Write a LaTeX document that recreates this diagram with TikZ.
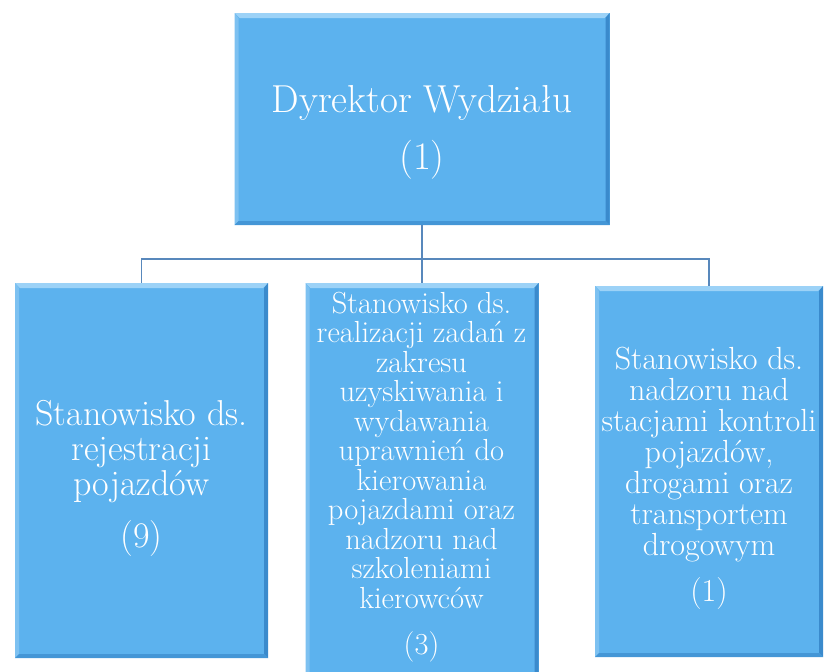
\documentclass[tikz,border=0pt]{standalone}
\usepackage{tikz}
\usetikzlibrary{positioning, calc}

\definecolor{boxblue}{RGB}{92,178,238}
\definecolor{boxlight}{RGB}{156,210,247}
\definecolor{boxdark}{RGB}{58,138,204}
\definecolor{linkblue}{RGB}{88,136,188}

\newcommand{\bevel}{%
	\fill[boxlight] (path picture bounding box.north west) -- (path picture bounding box.north east)
		-- ([xshift=-5pt,yshift=-5pt]path picture bounding box.north east) -- ([xshift=5pt,yshift=-5pt]path picture bounding box.north west) -- cycle;
	\fill[boxblue!80!white] (path picture bounding box.north west) -- (path picture bounding box.south west)
		-- ([xshift=4pt,yshift=4pt]path picture bounding box.south west) -- ([xshift=4pt,yshift=-5pt]path picture bounding box.north west) -- cycle;
	\fill[boxdark] (path picture bounding box.north east) -- (path picture bounding box.south east)
		-- ([xshift=-4pt,yshift=4pt]path picture bounding box.south east) -- ([xshift=-4pt,yshift=-5pt]path picture bounding box.north east) -- cycle;
	\fill[boxdark!70!boxblue] (path picture bounding box.south west) -- (path picture bounding box.south east)
		-- ([xshift=-4pt,yshift=4pt]path picture bounding box.south east) -- ([xshift=4pt,yshift=4pt]path picture bounding box.south west) -- cycle;
}

\begin{document}
\begin{tikzpicture}[x=1pt, y=-1pt,
					box/.style={rectangle, fill=boxblue, inner sep=0pt, path picture={\bevel}},
					boxtext/.style={text=white, align=center, inner sep=0pt},
					link/.style={draw=linkblue, line width=1.3pt}]

\useasboundingbox (0,0) rectangle (825,672);
\clip (0,0) rectangle (825,672);

% boxes
\node[box, minimum width=375pt, minimum height=212pt] (dyr) at (422,119) {};
\node[box, minimum width=253pt, minimum height=375pt] (rej) at (141.5,470.5) {};
\node[box, minimum width=233pt, minimum height=393pt] (upr) at (422,479.5) {};
\node[box, minimum width=228pt, minimum height=371pt] (kon) at (709,471.5) {};

% texts
\node[boxtext, font=\fontsize{39}{57}\selectfont] (dyrtxt) at (422,132)
	{Dyrektor Wydziału\\(1)};
\node[boxtext, font=\fontsize{36}{35}\selectfont] (rejtxt) at (141.5,478)
	{Stanowisko ds.\\rejestracji\\pojazdów\\[17pt](9)};
\node[boxtext, font=\fontsize{30.5}{29.5}\selectfont] (uprtxt) at (421.5,477)
	{Stanowisko ds.\\realizacji zadań z\\zakresu\\uzyskiwania i\\wydawania\\uprawnień do\\kierowania\\pojazdami oraz\\nadzoru nad\\szkoleniami\\kierowców\\[17pt](3)};
\node[boxtext, font=\fontsize{32}{31}\selectfont] (kontxt) at (709,478.5)
	{Stanowisko ds.\\nadzoru nad\\stacjami kontroli\\pojazdów,\\drogami oraz\\transportem\\drogowym\\[15pt](1)};

\coordinate (bus) at (422,259);
\draw[link] (dyr.south) -- (bus);
\draw[link] (rej.north) |- (bus) -| (kon.north);
\draw[link] (bus) -- (upr.north);
\end{tikzpicture}
\end{document}
